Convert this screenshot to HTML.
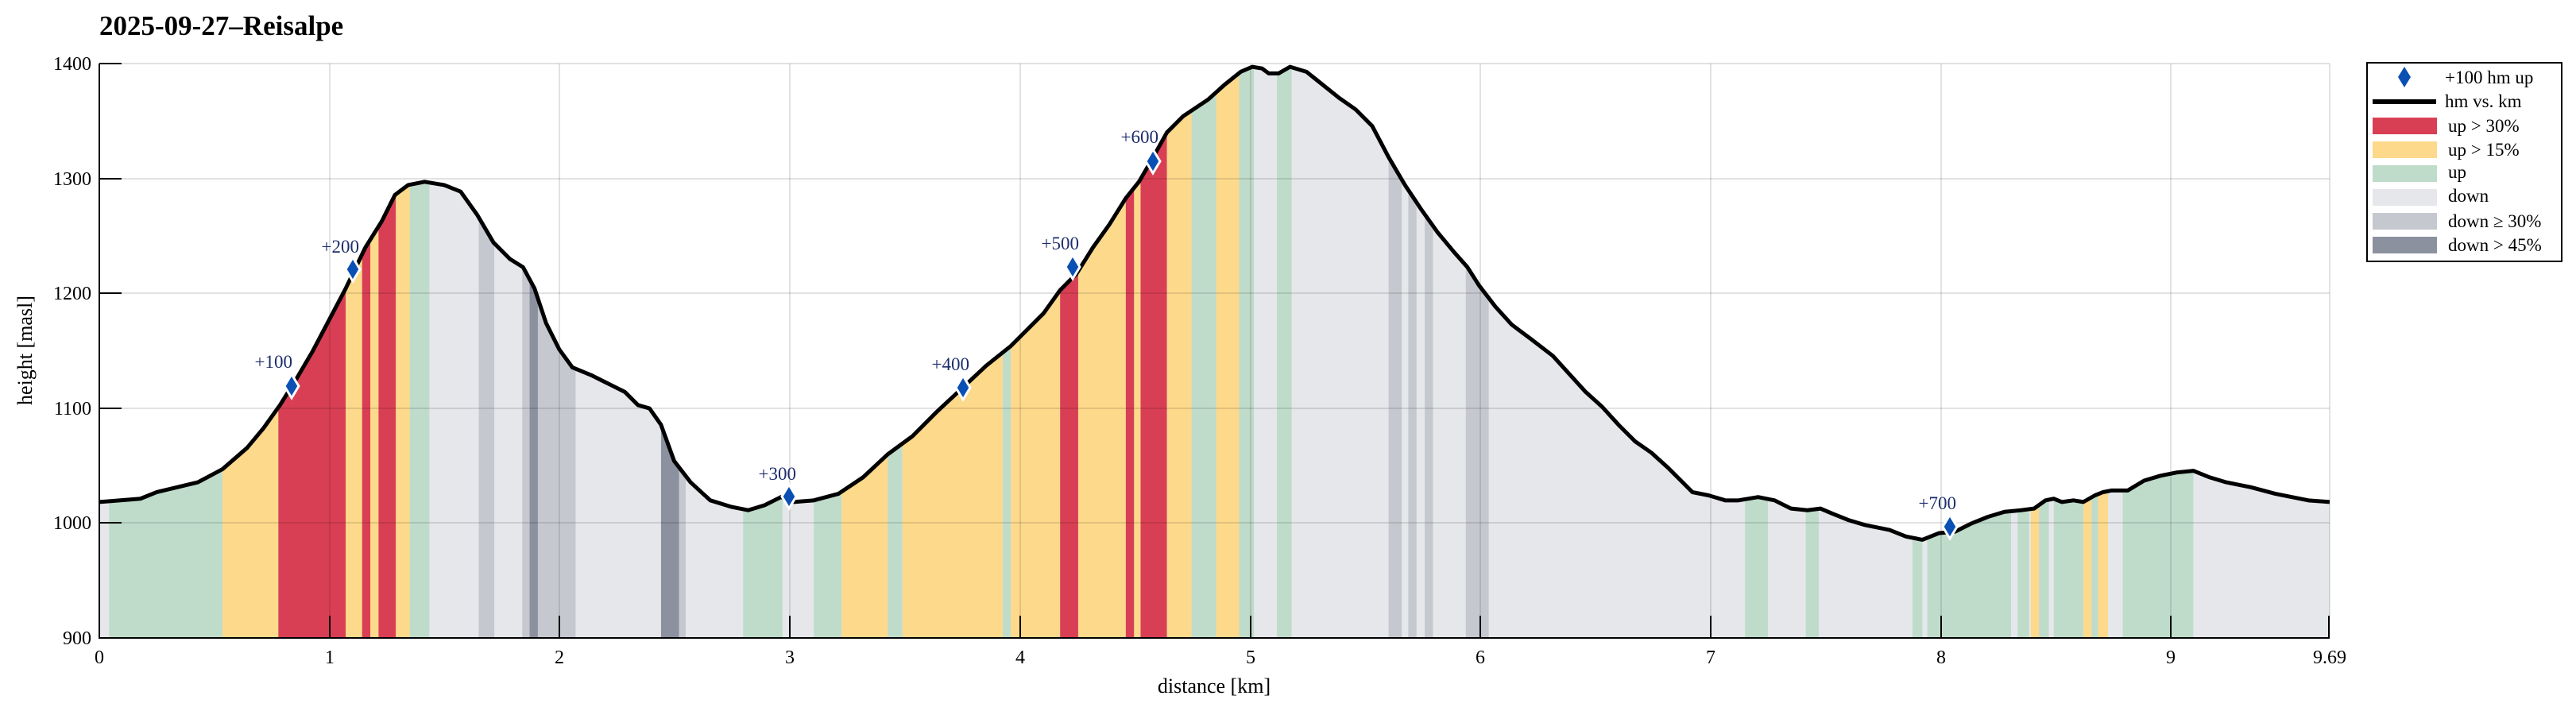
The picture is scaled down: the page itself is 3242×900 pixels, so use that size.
<!DOCTYPE html>
<html><head><meta charset="utf-8"><style>
html,body{margin:0;padding:0;background:#fff;}
svg{display:block;font-family:"Liberation Serif",serif;}
</style></head><body>
<svg width="3242" height="900" viewBox="0 0 3242 900" xmlns="http://www.w3.org/2000/svg">
<defs>
<clipPath id="area">
<path transform="translate(125,80) scale(2.067) translate(-60,-38)" d="M60,305 L85,303 L95,299 L120,293 L135,285 L150,272 L160,260 L170,246 L180,230 L190,213 L200,194 L210,175 L222,150 L232,134 L240,118 L248,112 L258,110 L270,112 L280,116 L290,130 L300,147 L310,157 L318,162 L325,175 L332,196 L340,212 L348,223 L360,228 L370,233 L380,238 L388,246 L395,248 L402,258 L410,280 L420,293 L432,304 L445,308 L455,310 L465,307 L475,302 L483,305 L495,304 L510,300 L525,290 L540,276 L555,265 L570,250 L585,236 L600,222 L615,210 L625,200 L635,190 L645,176 L655,166 L665,150 L675,136 L685,120 L693,110 L700,98 L710,80 L720,70 L735,60 L745,51 L755,43 L762,40 L768,41 L772,44 L778,44 L785,40 L795,43 L805,51 L815,59 L825,66 L835,76 L845,95 L855,112 L865,127 L875,141 L885,153 L893,162 L900,173 L910,186 L920,197 L932,206 L945,216 L955,227 L965,238 L975,247 L985,258 L995,268 L1005,275 L1015,284 L1025,294 L1030,299 L1040,301 L1050,304 L1058,304 L1070,302 L1080,304 L1090,309 L1100,310 L1108,309 L1115,312 L1125,316 L1135,319 L1150,322 L1160,326 L1170,328 L1175,326 L1180,324 L1190,323 L1200,318 L1210,314 L1220,311 L1230,310 L1238,309 L1245,304 L1250,303 L1255,305 L1262,304 L1268,305 L1275,301 L1280,299 L1285,298 L1295,298 L1305,292 L1315,289 L1325,287 L1335,286 L1345,290 L1355,293 L1370,296 L1385,300 L1395,302 L1405,304 L1418,305 L1418,388 L60,388 Z"/>
</clipPath>
</defs>
<!-- title -->
<text x="125" y="44" font-size="35" font-weight="bold">2025-09-27–Reisalpe</text>
<!-- bands -->
<g clip-path="url(#area)">
<g transform="translate(125,80) scale(2.067,2.067) translate(-60,-38)">
<rect x="60" y="30" width="1358" height="358" fill="#e6e7eb"/>
<g fill="#bfdccb">
<rect x="66" y="30" width="69" height="358"/><rect x="249" y="30" width="12" height="358"/>
<rect x="452" y="30" width="24" height="358"/><rect x="495" y="30" width="17" height="358"/>
<rect x="540" y="30" width="9" height="358"/><rect x="610" y="30" width="5" height="358"/>
<rect x="725" y="30" width="15" height="358"/><rect x="754" y="30" width="9" height="358"/>
<rect x="777" y="30" width="9" height="358"/><rect x="1062" y="30" width="14" height="358"/>
<rect x="1099" y="30" width="8" height="358"/><rect x="1164" y="30" width="6" height="358"/>
<rect x="1173" y="30" width="51" height="358"/><rect x="1228" y="30" width="7" height="358"/>
<rect x="1241" y="30" width="6" height="358"/><rect x="1250" y="30" width="18" height="358"/>
<rect x="1273" y="30" width="4" height="358"/><rect x="1292" y="30" width="43" height="358"/>
</g>
<g fill="#fdd98b">
<rect x="135" y="30" width="34" height="358"/><rect x="210" y="30" width="10" height="358"/>
<rect x="225" y="30" width="5" height="358"/><rect x="240.5" y="30" width="8.5" height="358"/>
<rect x="512" y="30" width="28" height="358"/><rect x="549" y="30" width="61" height="358"/>
<rect x="615" y="30" width="30" height="358"/><rect x="656" y="30" width="29" height="358"/>
<rect x="690" y="30" width="4" height="358"/><rect x="710" y="30" width="15" height="358"/>
<rect x="740" y="30" width="14" height="358"/><rect x="1236" y="30" width="5" height="358"/>
<rect x="1268" y="30" width="5" height="358"/><rect x="1277" y="30" width="6" height="358"/>
</g>
<g fill="#d93f54">
<rect x="169" y="30" width="41" height="358"/><rect x="220" y="30" width="5" height="358"/>
<rect x="230" y="30" width="10.5" height="358"/><rect x="645" y="30" width="11" height="358"/>
<rect x="685" y="30" width="5" height="358"/><rect x="694" y="30" width="16" height="358"/>
</g>
<g fill="#c6c8cf">
<rect x="291" y="30" width="9.5" height="358"/><rect x="317.5" y="30" width="32.5" height="358"/>
<rect x="413" y="30" width="4" height="358"/><rect x="845" y="30" width="8" height="358"/>
<rect x="857" y="30" width="5" height="358"/><rect x="867" y="30" width="5" height="358"/>
<rect x="892" y="30" width="14" height="358"/>
</g>
<g fill="#8b919e">
<rect x="322" y="30" width="5" height="358"/><rect x="402" y="30" width="11" height="358"/>
</g>
</g>
</g>
<!-- grid -->
<g stroke="#000" stroke-opacity="0.15" stroke-width="1.5">
<line x1="125" y1="80" x2="2932" y2="80"/>
<line x1="125" y1="225" x2="2932" y2="225"/>
<line x1="125" y1="369" x2="2932" y2="369"/>
<line x1="125" y1="514" x2="2932" y2="514"/>
<line x1="125" y1="658" x2="2932" y2="658"/>
<line x1="2932" y1="80" x2="2932" y2="803"/>
<line x1="415" y1="80" x2="415" y2="803"/><line x1="704" y1="80" x2="704" y2="803"/>
<line x1="994" y1="80" x2="994" y2="803"/><line x1="1284" y1="80" x2="1284" y2="803"/>
<line x1="1574" y1="80" x2="1574" y2="803"/><line x1="1863" y1="80" x2="1863" y2="803"/>
<line x1="2153" y1="80" x2="2153" y2="803"/><line x1="2443" y1="80" x2="2443" y2="803"/>
<line x1="2732" y1="80" x2="2732" y2="803"/>
</g>
<!-- profile line -->
<path transform="translate(125,80) scale(2.067) translate(-60,-38)" vector-effect="non-scaling-stroke" fill="none" stroke="#000" stroke-width="5" stroke-linejoin="round" d="M60,305 L85,303 L95,299 L120,293 L135,285 L150,272 L160,260 L170,246 L180,230 L190,213 L200,194 L210,175 L222,150 L232,134 L240,118 L248,112 L258,110 L270,112 L280,116 L290,130 L300,147 L310,157 L318,162 L325,175 L332,196 L340,212 L348,223 L360,228 L370,233 L380,238 L388,246 L395,248 L402,258 L410,280 L420,293 L432,304 L445,308 L455,310 L465,307 L475,302 L483,305 L495,304 L510,300 L525,290 L540,276 L555,265 L570,250 L585,236 L600,222 L615,210 L625,200 L635,190 L645,176 L655,166 L665,150 L675,136 L685,120 L693,110 L700,98 L710,80 L720,70 L735,60 L745,51 L755,43 L762,40 L768,41 L772,44 L778,44 L785,40 L795,43 L805,51 L815,59 L825,66 L835,76 L845,95 L855,112 L865,127 L875,141 L885,153 L893,162 L900,173 L910,186 L920,197 L932,206 L945,216 L955,227 L965,238 L975,247 L985,258 L995,268 L1005,275 L1015,284 L1025,294 L1030,299 L1040,301 L1050,304 L1058,304 L1070,302 L1080,304 L1090,309 L1100,310 L1108,309 L1115,312 L1125,316 L1135,319 L1150,322 L1160,326 L1170,328 L1175,326 L1180,324 L1190,323 L1200,318 L1210,314 L1220,311 L1230,310 L1238,309 L1245,304 L1250,303 L1255,305 L1262,304 L1268,305 L1275,301 L1280,299 L1285,298 L1295,298 L1305,292 L1315,289 L1325,287 L1335,286 L1345,290 L1355,293 L1370,296 L1385,300 L1395,302 L1405,304 L1418,305"/>
<!-- axes -->
<g stroke="#000" stroke-width="2">
<line x1="125" y1="80" x2="125" y2="804"/>
<line x1="124" y1="803" x2="2932" y2="803"/>
<line x1="125" y1="80" x2="153" y2="80"/><line x1="125" y1="225" x2="153" y2="225"/>
<line x1="125" y1="369" x2="153" y2="369"/><line x1="125" y1="514" x2="153" y2="514"/>
<line x1="125" y1="658" x2="153" y2="658"/>
<line x1="415" y1="803" x2="415" y2="775"/><line x1="704" y1="803" x2="704" y2="775"/>
<line x1="994" y1="803" x2="994" y2="775"/><line x1="1284" y1="803" x2="1284" y2="775"/>
<line x1="1574" y1="803" x2="1574" y2="775"/><line x1="1863" y1="803" x2="1863" y2="775"/>
<line x1="2153" y1="803" x2="2153" y2="775"/><line x1="2443" y1="803" x2="2443" y2="775"/>
<line x1="2732" y1="803" x2="2732" y2="775"/><line x1="2931" y1="803" x2="2931" y2="775"/>
</g>
<g font-size="24" text-anchor="end">
<text x="115" y="88">1400</text><text x="115" y="233">1300</text><text x="115" y="377">1200</text>
<text x="115" y="522">1100</text><text x="115" y="666">1000</text><text x="115" y="811">900</text>
</g>
<g font-size="24" text-anchor="middle">
<text x="125" y="835">0</text><text x="415" y="835">1</text><text x="704" y="835">2</text>
<text x="994" y="835">3</text><text x="1284" y="835">4</text><text x="1574" y="835">5</text>
<text x="1863" y="835">6</text><text x="2153" y="835">7</text><text x="2443" y="835">8</text>
<text x="2732" y="835">9</text><text x="2932" y="835">9.69</text>
<text x="1528" y="872" font-size="26">distance [km]</text>
<text transform="translate(40,441) rotate(-90)" font-size="26">height [masl]</text>
</g>
<!-- markers -->
<g fill="#0a50b4" stroke="#fff" stroke-width="3">
<path d="M0,-15 L9,0 L0,15 L-9,0 Z" transform="translate(367,486)"/>
<path d="M0,-15 L9,0 L0,15 L-9,0 Z" transform="translate(444,339)"/>
<path d="M0,-15 L9,0 L0,15 L-9,0 Z" transform="translate(993,625)"/>
<path d="M0,-15 L9,0 L0,15 L-9,0 Z" transform="translate(1212,488)"/>
<path d="M0,-15 L9,0 L0,15 L-9,0 Z" transform="translate(1350,336)"/>
<path d="M0,-15 L9,0 L0,15 L-9,0 Z" transform="translate(1451,203)"/>
<path d="M0,-15 L9,0 L0,15 L-9,0 Z" transform="translate(2454,663)"/>
</g>
<g font-size="23" fill="#1c2d6b" text-anchor="end">
<text x="368" y="463">+100</text><text x="452" y="318">+200</text>
<text x="1002" y="604">+300</text><text x="1220" y="466">+400</text>
<text x="1358" y="314">+500</text><text x="1458" y="180">+600</text>
<text x="2462" y="641">+700</text>
</g>
<!-- legend -->
<rect x="2979" y="79" width="245" height="250" fill="#fff" stroke="#000" stroke-width="2"/>
<path d="M0,-13 L8,0 L0,13 L-8,0 Z" transform="translate(3026,97)" fill="#0a50b4"/>
<line x1="2986" y1="128" x2="3066" y2="128" stroke="#000" stroke-width="6"/>
<rect x="2986" y="148" width="81" height="21" fill="#d93f54"/>
<rect x="2986" y="178" width="81" height="21" fill="#fdd98b"/>
<rect x="2986" y="208" width="81" height="21" fill="#bfdccb"/>
<rect x="2986" y="238" width="81" height="21" fill="#e6e7eb"/>
<rect x="2986" y="268" width="81" height="21" fill="#c6c8cf"/>
<rect x="2986" y="298" width="81" height="21" fill="#8b919e"/>
<g font-size="23">
<text x="3077" y="105">+100 hm up</text><text x="3077" y="135">hm vs. km</text>
<text x="3081" y="166">up &gt; 30%</text><text x="3081" y="196">up &gt; 15%</text>
<text x="3081" y="224">up</text><text x="3081" y="254">down</text>
<text x="3081" y="286">down ≥ 30%</text><text x="3081" y="316">down &gt; 45%</text>
</g>
</svg>
</body></html>
